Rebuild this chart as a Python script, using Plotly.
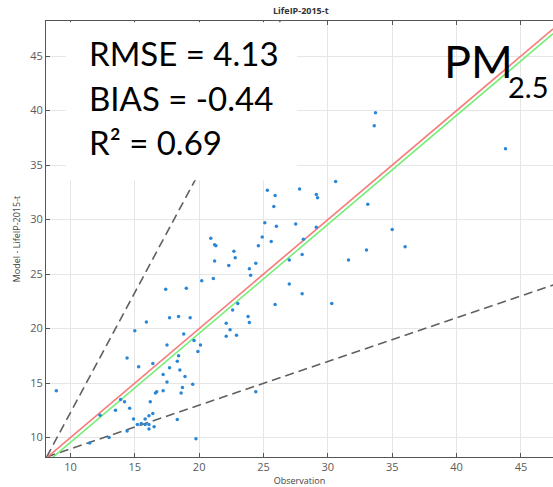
import plotly.graph_objects as go

# Observation (x) and Model (y) values
obs = [17.4, 19.0, 20.2, 21.1, 20.9, 21.2, 21.3, 21.2, 22.7, 22.8, 22.3, 23.9, 24.0, 24.4,
       24.6, 24.9, 25.1, 25.3, 25.9, 25.8, 26.0, 25.6, 27.0, 27.0, 28.0, 28.0, 28.1, 27.5,
       27.8, 29.1, 29.1, 29.2, 30.6, 31.6, 30.3, 25.9, 23.0, 33.1, 35.0, 36.0, 33.0, 33.7,
       33.6, 43.8, 15.9, 17.7, 18.4, 19.3, 15.0, 14.4, 15.3, 16.4, 17.5, 18.8, 19.6, 20.1,
       19.9, 18.4, 18.3, 17.7, 18.5, 17.2, 18.9, 17.5, 19.5, 18.7, 18.6, 17.2, 16.6, 16.7,
       16.2, 13.9, 14.2, 13.5, 14.6, 14.9, 15.8, 16.1, 16.4, 15.2, 15.5, 15.8, 16.1, 16.1,
       16.5, 14.4, 18.3, 19.75, 13.0, 22.1, 22.4, 22.1, 22.9, 22.6, 23.8, 23.9, 24.4, 12.3,
       8.9, 11.5]
model = [23.6, 23.7, 24.4, 24.6, 28.3, 27.7, 27.6, 26.2, 27.1, 26.5, 25.8, 25.5, 24.9, 26.0,
         27.6, 28.4, 29.7, 32.7, 32.2, 31.2, 29.4, 28.0, 24.1, 26.3, 23.2, 26.8, 28.2, 29.6,
         32.8, 29.3, 32.3, 32.0, 33.5, 26.3, 22.3, 22.2, 22.3, 31.4, 29.1, 27.5, 27.2, 39.8,
         38.6, 36.5, 20.6, 21.0, 21.1, 21.0, 19.8, 17.3, 16.5, 16.8, 18.5, 19.5, 18.9, 18.5,
         17.9, 17.5, 17.0, 16.4, 16.2, 15.8, 15.6, 15.1, 14.9, 14.6, 14.1, 14.3, 14.1, 14.2,
         13.3, 13.5, 13.3, 12.5, 12.7, 11.7, 11.7, 12.0, 12.2, 11.2, 11.3, 11.2, 11.2, 10.8,
         11.0, 10.6, 11.65, 9.9, 10.0, 20.5, 19.9, 19.3, 19.4, 21.7, 21.1, 20.55, 14.2, 12.05,
         14.3, 9.5]

# Reference lines (x endpoints and y endpoints)
line_x = [8.1, 47.5]
one_to_one_y = [8.1, 47.5]
bias = -0.44
bias_y = [8.1 + bias, 47.5 + bias]
upper_dash_x = [8.15, 26.3]
upper_dash_y = [8.22, 48.2]
lower_dash_x = [8.15, 47.5]
lower_dash_y = [8.22, 24.0]

x_ticks = [10, 15, 20, 25, 30, 35, 40, 45]
y_ticks = [10, 15, 20, 25, 30, 35, 40, 45]

fig = go.Figure()
fig.add_trace(go.Scatter(x=upper_dash_x, y=upper_dash_y, mode="lines",
                         line=dict(color="#606060", width=1.6, dash="9px,5px"), hoverinfo="skip"))
fig.add_trace(go.Scatter(x=lower_dash_x, y=lower_dash_y, mode="lines",
                         line=dict(color="#606060", width=1.6, dash="9px,5px"), hoverinfo="skip"))
fig.add_trace(go.Scatter(x=line_x, y=one_to_one_y, mode="lines",
                         line=dict(color="#f77a7a", width=1.6), hoverinfo="skip"))
fig.add_trace(go.Scatter(x=line_x, y=bias_y, mode="lines",
                         line=dict(color="#74ee74", width=1.6), hoverinfo="skip"))
fig.add_trace(go.Scatter(x=obs, y=model, mode="markers",
                         marker=dict(color="#2a86d6", size=3.5, line=dict(width=0))))

# white box behind the statistics text
fig.add_shape(type="rect", xref="paper", yref="paper", x0=0.039, x1=0.495, y0=0.635, y1=0.997,
              fillcolor="white", line=dict(width=0), layer="above")

txt_font = dict(family="Lato, Noto Sans, sans-serif", color="black")
fig.add_annotation(text="RMSE = 4.13", xref="paper", yref="paper", x=0.081, y=0.977,
                   xanchor="left", yanchor="top", showarrow=False, font=dict(size=33, **txt_font))
fig.add_annotation(text="BIAS = -0.44", xref="paper", yref="paper", x=0.081, y=0.875,
                   xanchor="left", yanchor="top", showarrow=False, font=dict(size=33, **txt_font))
fig.add_annotation(text="R² = 0.69", xref="paper", yref="paper", x=0.081, y=0.774,
                   xanchor="left", yanchor="top", showarrow=False, font=dict(size=33, **txt_font))
fig.add_annotation(text="PM", xref="paper", yref="paper", x=0.781, y=0.975,
                   xanchor="left", yanchor="top", showarrow=False, font=dict(size=45, **txt_font))
fig.add_annotation(text="2.5", xref="paper", yref="paper", x=0.908, y=0.895,
                   xanchor="left", yanchor="top", showarrow=False, font=dict(size=29, **txt_font))

fig.add_annotation(text="<b>LifeIP-2015-t</b>", xref="paper", yref="paper", x=0.503, y=1.0,
                   yshift=11, xanchor="center", yanchor="middle", showarrow=False,
                   font=dict(family="Open Sans, sans-serif", size=9, color="#333333"))

axis_common = dict(
    showgrid=True, gridcolor="#e6e6e6", gridwidth=1, zeroline=False,
    ticks="inside", ticklen=4, tickcolor="#555555",
    tickfont=dict(family="Open Sans, sans-serif", size=11, color="#5a5a5a"),
    linecolor="#555555", linewidth=1, showline=True,
)
fig.update_layout(
    width=553, height=487,
    margin=dict(l=46, r=0, t=21, b=30),
    paper_bgcolor="white", plot_bgcolor="white",
    showlegend=False,
    xaxis=dict(range=[8.1, 47.49], tickvals=x_ticks, mirror="ticks",
               title=dict(text="Observation", standoff=2,
                          font=dict(family="Open Sans, sans-serif", size=9, color="#444444")),
               **axis_common),
    yaxis=dict(range=[8.22, 48.22], tickvals=y_ticks, mirror=False,
               title=dict(text="Model - LifeIP-2015-t", standoff=8,
                          font=dict(family="Open Sans, sans-serif", size=9, color="#444444")),
               **axis_common),
)
fig.write_html("out.html", config={"displayModeBar": False},
               post_script="document.body.style.margin='0';document.body.style.overflow='hidden';")
